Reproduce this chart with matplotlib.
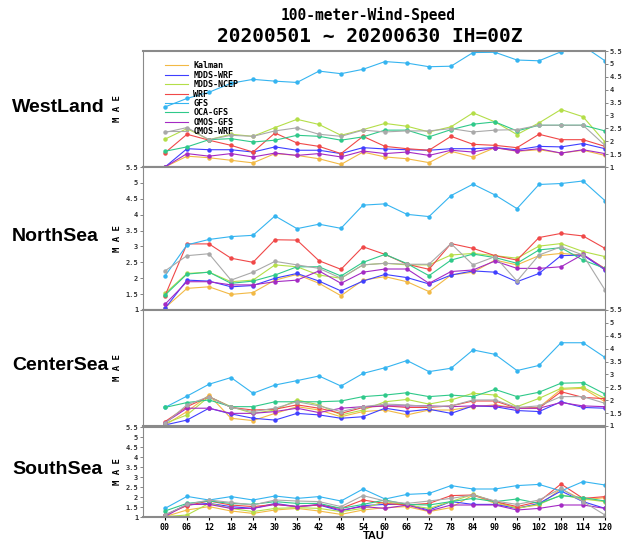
import numpy as np
import matplotlib
matplotlib.use("Agg")
import matplotlib.pyplot as plt
from matplotlib.lines import Line2D

tau = ["00", "06", "12", "18", "24", "30", "36", "42", "48", "54", "60",
       "66", "72", "78", "84", "90", "96", "102", "108", "114", "120"]
models = ["Kalman", "MDDS-WRF", "MDDS-NCEP", "WRF", "GFS", "OCA-GFS", "OMOS-GFS", "OMOS-WRF"]
colors = ["#f2b945", "#3f3fff", "#b4de48", "#f04848", "#35b4f0", "#2fc98a", "#a42ac4", "#a9a9a9"]
regions = ["WestLand", "NorthSea", "CenterSea", "SouthSea"]

# WestLand
west = {
    "Kalman":    [1.00, 1.42, 1.36, 1.26, 1.16, 1.52, 1.45, 1.32, 1.10, 1.58, 1.39, 1.32, 1.17, 1.61, 1.39, 1.75, 1.61, 1.67, 1.54, 1.65, 1.45],
    "MDDS-WRF":  [1.00, 1.71, 1.67, 1.67, 1.58, 1.78, 1.65, 1.65, 1.52, 1.75, 1.70, 1.67, 1.65, 1.71, 1.71, 1.75, 1.67, 1.80, 1.78, 1.91, 1.71],
    "MDDS-NCEP": [2.08, 2.49, 2.06, 2.27, 2.19, 2.53, 2.85, 2.65, 2.23, 2.45, 2.69, 2.58, 2.36, 2.56, 3.10, 2.75, 2.26, 2.71, 3.23, 2.95, 1.97],
    "WRF":       [1.55, 2.27, 2.04, 1.84, 1.58, 2.32, 1.93, 1.80, 1.52, 2.19, 1.80, 1.71, 1.65, 2.19, 1.88, 1.84, 1.75, 2.27, 2.06, 2.06, 1.80],
    "GFS":       [3.33, 3.66, 3.90, 4.25, 4.40, 4.33, 4.28, 4.72, 4.62, 4.79, 5.09, 5.03, 4.89, 4.91, 5.44, 5.45, 5.15, 5.12, 5.47, 5.70, 5.12],
    "OCA-GFS":   [1.61, 1.78, 2.06, 2.10, 1.97, 2.04, 2.23, 2.19, 2.04, 2.17, 2.43, 2.43, 2.17, 2.45, 2.66, 2.75, 2.40, 2.62, 2.62, 2.62, 2.40],
    "OMOS-GFS":  [1.00, 1.52, 1.42, 1.52, 1.39, 1.54, 1.45, 1.52, 1.39, 1.62, 1.52, 1.58, 1.45, 1.65, 1.58, 1.75, 1.62, 1.71, 1.54, 1.67, 1.52],
    "OMOS-WRF":  [2.34, 2.53, 2.06, 2.23, 2.19, 2.40, 2.52, 2.27, 2.19, 2.43, 2.36, 2.40, 2.40, 2.49, 2.36, 2.43, 2.45, 2.62, 2.62, 2.62, 1.84],
}
# NorthSea
north = {
    "Kalman":    [1.07, 1.68, 1.73, 1.49, 1.55, 1.94, 2.12, 1.84, 1.45, 1.94, 2.05, 1.89, 1.58, 2.10, 2.19, 2.57, 2.42, 2.71, 2.78, 2.73, 2.31],
    "MDDS-WRF":  [1.05, 1.94, 1.91, 1.73, 1.77, 2.00, 2.15, 1.91, 1.60, 1.91, 2.12, 2.02, 1.82, 2.10, 2.23, 2.19, 1.89, 2.15, 2.71, 2.73, 2.26],
    "MDDS-NCEP": [1.52, 2.15, 2.19, 1.89, 1.94, 2.42, 2.36, 2.10, 2.00, 2.42, 2.47, 2.42, 2.42, 2.73, 2.78, 2.71, 2.63, 3.01, 3.09, 2.84, 2.68],
    "WRF":       [1.45, 3.08, 3.08, 2.63, 2.50, 3.21, 3.20, 2.55, 2.28, 2.99, 2.75, 2.44, 2.28, 3.09, 2.94, 2.71, 2.57, 3.28, 3.41, 3.33, 2.94],
    "GFS":       [2.07, 3.05, 3.22, 3.31, 3.35, 3.96, 3.56, 3.70, 3.57, 4.30, 4.34, 4.01, 3.94, 4.60, 4.96, 4.62, 4.19, 4.95, 4.98, 5.06, 4.44],
    "OCA-GFS":   [1.47, 2.13, 2.19, 1.84, 1.91, 2.10, 2.36, 2.36, 2.07, 2.50, 2.75, 2.46, 2.08, 2.57, 2.76, 2.65, 2.47, 2.89, 2.96, 2.57, 2.31],
    "OMOS-GFS":  [1.18, 1.89, 1.89, 1.79, 1.79, 1.89, 1.94, 2.23, 1.84, 2.19, 2.29, 2.29, 1.84, 2.21, 2.26, 2.54, 2.31, 2.31, 2.36, 2.75, 2.29],
    "OMOS-WRF":  [2.23, 2.71, 2.77, 1.94, 2.19, 2.53, 2.42, 2.31, 2.00, 2.42, 2.47, 2.44, 2.44, 3.09, 2.42, 2.68, 1.91, 2.73, 2.99, 2.73, 1.63],
}
# CenterSea
center = {
    "Kalman":    [1.04, 1.56, 2.20, 1.30, 1.21, 1.49, 1.75, 1.62, 1.36, 1.56, 1.62, 1.43, 1.62, 1.62, 1.75, 1.82, 1.69, 1.72, 2.42, 2.46, 1.94],
    "MDDS-WRF":  [1.04, 1.23, 1.69, 1.47, 1.30, 1.23, 1.49, 1.43, 1.30, 1.36, 1.69, 1.56, 1.65, 1.49, 1.78, 1.75, 1.60, 1.56, 1.94, 1.72, 1.69],
    "MDDS-NCEP": [1.10, 1.43, 2.14, 1.75, 1.49, 1.62, 2.01, 1.82, 1.43, 1.62, 1.94, 2.03, 1.85, 2.01, 2.27, 2.20, 1.75, 2.07, 2.46, 2.50, 2.07],
    "WRF":       [1.17, 1.75, 2.14, 1.72, 1.62, 1.65, 1.82, 1.69, 1.49, 1.72, 1.78, 1.72, 1.72, 1.78, 1.97, 1.97, 1.69, 1.69, 2.33, 2.11, 2.06],
    "GFS":       [1.72, 2.16, 2.62, 2.88, 2.27, 2.59, 2.76, 2.94, 2.55, 3.04, 3.26, 3.54, 3.11, 3.24, 3.95, 3.78, 3.15, 3.35, 4.23, 4.23, 3.66],
    "OCA-GFS":   [1.72, 1.91, 2.01, 1.75, 1.75, 1.94, 1.94, 1.94, 1.97, 2.14, 2.20, 2.29, 2.14, 2.20, 2.14, 2.42, 2.14, 2.31, 2.66, 2.68, 2.24],
    "OMOS-GFS":  [1.13, 1.69, 1.69, 1.49, 1.49, 1.56, 1.69, 1.52, 1.69, 1.75, 1.78, 1.78, 1.78, 1.75, 1.78, 1.78, 1.69, 1.69, 1.91, 1.78, 1.75],
    "OMOS-WRF":  [1.10, 1.82, 2.14, 1.72, 1.56, 1.69, 1.94, 1.78, 1.56, 1.75, 1.85, 1.82, 1.75, 1.78, 2.01, 2.01, 1.72, 1.78, 2.14, 2.14, 1.88],
}
# SouthSea
south = {
    "Kalman":    [1.02, 1.35, 1.52, 1.30, 1.18, 1.35, 1.43, 1.30, 1.13, 1.35, 1.47, 1.52, 1.27, 1.47, 2.10, 1.68, 1.47, 1.60, 2.40, 1.85, 1.97],
    "MDDS-WRF":  [1.10, 1.60, 1.68, 1.52, 1.43, 1.68, 1.52, 1.60, 1.30, 1.57, 1.63, 1.63, 1.35, 1.77, 1.63, 1.63, 1.43, 1.68, 2.30, 1.77, 1.43],
    "MDDS-NCEP": [1.02, 1.10, 1.68, 1.43, 1.27, 1.43, 1.47, 1.43, 1.27, 1.43, 1.77, 1.60, 1.43, 1.77, 2.13, 1.77, 1.43, 1.63, 2.10, 1.90, 1.77],
    "WRF":       [1.10, 1.57, 1.80, 1.60, 1.52, 1.63, 1.52, 1.60, 1.43, 1.85, 1.68, 1.60, 1.68, 2.07, 2.10, 1.77, 1.52, 1.77, 2.65, 1.93, 2.02],
    "GFS":       [1.43, 2.03, 1.85, 2.02, 1.85, 2.05, 1.93, 2.02, 1.80, 2.40, 1.90, 2.13, 2.18, 2.57, 2.40, 2.40, 2.57, 2.63, 2.30, 2.77, 2.60],
    "OCA-GFS":   [1.30, 1.68, 1.80, 1.68, 1.63, 1.77, 1.68, 1.68, 1.43, 1.63, 1.85, 1.63, 1.60, 1.77, 1.93, 1.77, 1.90, 1.68, 2.07, 1.97, 1.80],
    "OMOS-GFS":  [1.02, 1.63, 1.63, 1.43, 1.43, 1.63, 1.52, 1.63, 1.35, 1.52, 1.43, 1.60, 1.30, 1.60, 1.60, 1.60, 1.35, 1.43, 1.60, 1.60, 1.43],
    "OMOS-WRF":  [1.10, 1.63, 1.85, 1.73, 1.60, 1.85, 1.80, 1.77, 1.52, 2.07, 1.80, 1.68, 1.80, 1.93, 2.10, 1.80, 1.63, 1.85, 2.43, 1.77, 1.10],
}
panels = [west, north, center, south]

W, H = 632, 545
fig = plt.figure(figsize=(W / 100, H / 100), dpi=100)
mono = "DejaVu Sans Mono"

# panel edges in pixels (top, bottom), ticks side
edges = [(51, 167), (167, 310), (310, 426), (427, 517)]
sides = ["right", "left", "right", "left"]
x = np.arange(len(tau))
yt = np.arange(1, 5.51, 0.5)

for k, data in enumerate(panels):
    top, bot = edges[k]
    ax = fig.add_axes([143 / W, 1 - bot / H, (605 - 143) / W, (bot - top) / H])
    for m, c in zip(models, colors):
        ax.plot(x, data[m], color=c, lw=0.8, marker="o", ms=2.2, mec=c, mfc=c)
    ax.set_xlim(-1, 20)
    ax.set_ylim(1, 5.5)
    ax.set_yticks(yt)
    ax.set_yticklabels(["%g" % v for v in yt], fontfamily=mono, fontweight="bold", fontsize=5)
    if sides[k] == "right":
        ax.yaxis.tick_right()
    ax.tick_params(axis="y", length=2, width=0.5, pad=1.5, colors="#555555", labelcolor="#333333")
    for s in ax.spines.values():
        s.set_color("#8a8a8a")
        s.set_linewidth(0.8)
    ax.spines["top"].set_linewidth(1.5)
    ax.spines["bottom"].set_linewidth(1.5)
    if k == 3:
        ax.set_xticks(x)
        ax.set_xticklabels(tau, fontfamily=mono, fontweight="bold", fontsize=6)
        ax.tick_params(axis="x", length=2, pad=2)
    else:
        ax.set_xticks([])
    ax.text(-0.056, 0.5, "M A E", transform=ax.transAxes, rotation=90, ha="center", va="center",
            fontfamily=mono, fontweight="bold", fontsize=6.5)
    fig.text(12 / W, 1 - ((top + bot) / 2 - 2) / H, regions[k], ha="left", va="center",
             fontfamily="Liberation Sans", fontweight="bold", fontsize=14)
    if k == 0:
        handles = [Line2D([], [], color=c, lw=0.8) for c in colors]
        ax.legend(handles, models, loc="upper left", bbox_to_anchor=(0.04, 0.94), frameon=False,
                  handlelength=2.8, labelspacing=0.05, borderaxespad=0, handletextpad=0.6,
                  prop={"family": mono, "weight": "bold", "size": 6})

fig.text(374 / W, 1 - 536 / H, "TAU", ha="center", va="center",
         fontfamily="Liberation Sans", fontweight="bold", fontsize=8)
fig.text(368 / W, 1 - 15 / H, "100-meter-Wind-Speed", ha="center", va="center",
         fontfamily=mono, fontweight="bold", fontsize=10.5)
fig.text(370 / W, 1 - 37 / H, "20200501 ~ 20200630 IH=00Z", ha="center", va="center",
         fontfamily=mono, fontweight="bold", fontsize=14)

fig.savefig("out.png", dpi=100)
